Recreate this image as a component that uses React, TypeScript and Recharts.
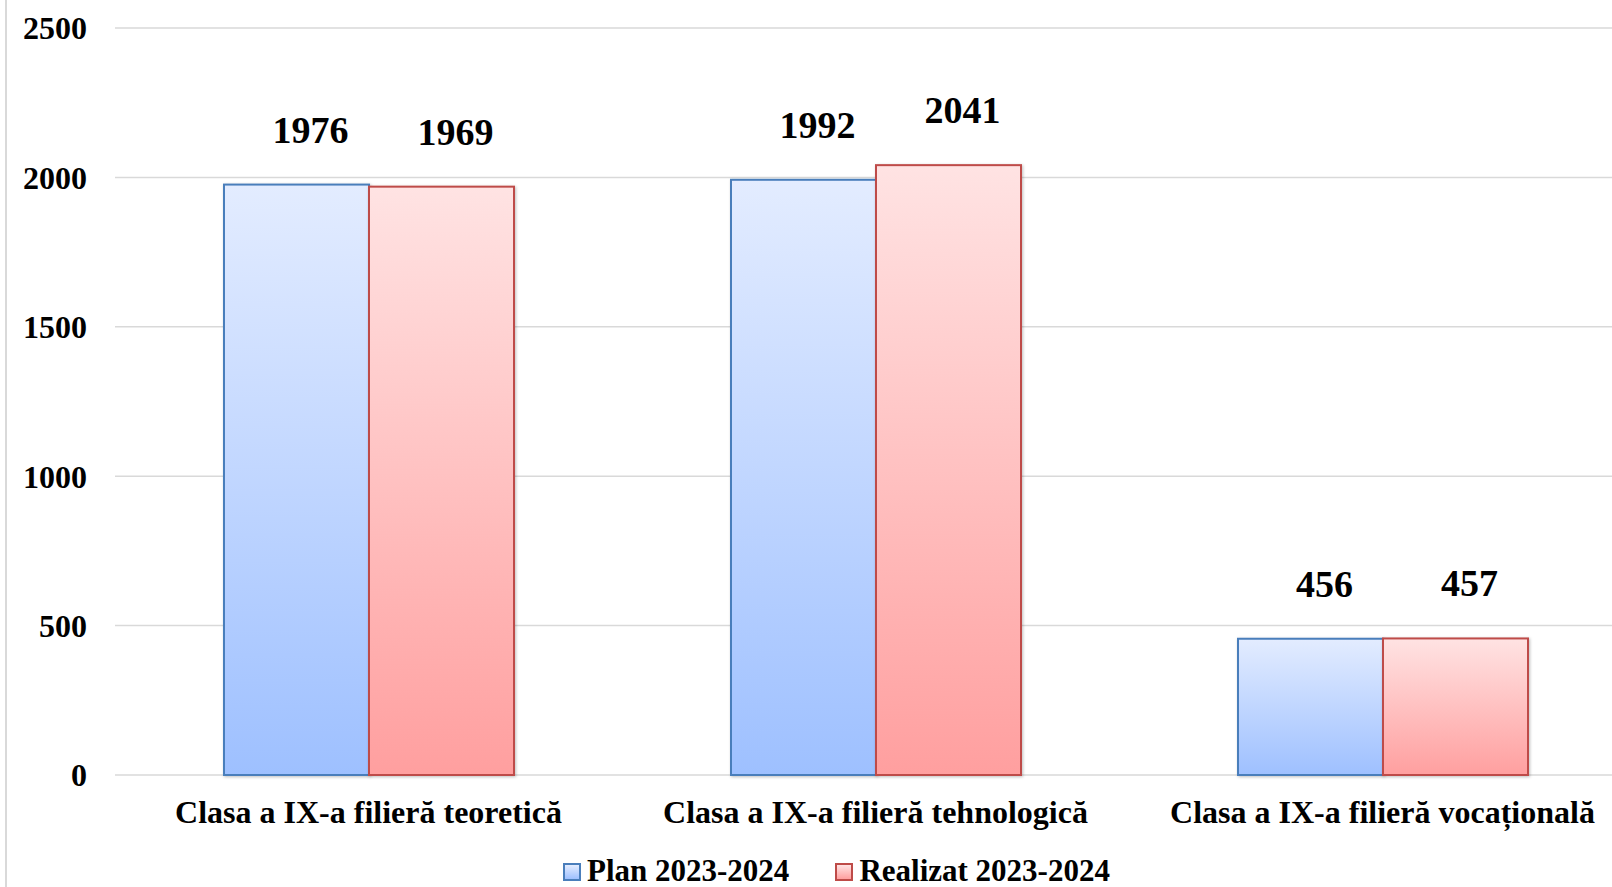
import React from "react";
import { BarChart, Bar, XAxis, YAxis, CartesianGrid, Legend, LabelList } from "recharts";

const categories = [
  "Clasa a IX-a filieră teoretică",
  "Clasa a IX-a filieră tehnologică",
  "Clasa a IX-a filieră vocațională",
];
const planValues = [1976, 1992, 456];
const realizatValues = [1969, 2041, 457];
const yTicks = [0, 500, 1000, 1500, 2000, 2500];
const seriesNames = ["Plan 2023-2024", "Realizat 2023-2024"];

const data = categories.map((c, i) => ({ name: c, plan: planValues[i], realizat: realizatValues[i] }));

const FONT = "'Liberation Serif', 'Times New Roman', serif";

const makeShape = (grad: string, stroke: string) => (props: any) => {
  const { x, y, width, height } = props;
  if (width == null || height == null) return null;
  return (
    <rect
      x={x}
      y={y}
      width={width}
      height={height}
      fill={`url(#${grad})`}
      stroke={stroke}
      strokeWidth={2}
      filter="url(#barShadow)"
    />
  );
};

const renderLabel = (props: any) => {
  const { x, y, width, value } = props;
  return (
    <text
      x={Number(x) + Number(width) / 2 + 14}
      y={Number(y) - 42}
      textAnchor="middle"
      fontFamily={FONT}
      fontWeight="bold"
      fontSize={38}
      fill="#000"
    >
      {value}
    </text>
  );
};

const LegendContent = () => {
  const item = (label: string, grad: [string, string], stroke: string, ml: number) => (
    <div style={{ display: "flex", alignItems: "center", marginLeft: ml }}>
      <div
        style={{
          width: 14,
          height: 14,
          border: `2px solid ${stroke}`,
          background: `linear-gradient(${grad[0]}, ${grad[1]})`,
          marginRight: 6,
          marginTop: 3,
        }}
      />
      <span style={{ fontFamily: FONT, fontWeight: "bold", fontSize: 31, color: "#000", lineHeight: "33px", whiteSpace: "nowrap" }}>
        {label}
      </span>
    </div>
  );
  return (
    <div style={{ height: 34, display: "flex", alignItems: "flex-start", paddingTop: 1, boxSizing: "border-box" }}>
      {item(seriesNames[0], ["#e3ecff", "#9ec0ff"], "#4a7ebb", 563)}
      {item(seriesNames[1], ["#ffe3e3", "#ff9f9f"], "#be4b48", 46)}
    </div>
  );
};

export default function App() {
  return (
    <div style={{ position: "absolute", left: 0, top: 0, width: 1612, height: 887, overflow: "hidden", background: "#fff" }}>
      <div style={{ position: "absolute", left: 5, top: 0, width: 2, height: 887, background: "#d9d9d9" }} />
      <div style={{ position: "absolute", left: 0, top: 0 }}>
        <BarChart
          width={1640}
          height={887}
          data={data}
          margin={{ top: 28, right: 4, bottom: 0, left: 0 }}
          barGap={0}
          barSize={145}
        >
          <defs>
            <linearGradient id="gradBlue" x1="0" y1="0" x2="0" y2="1">
              <stop offset="0%" stopColor="#e3ecff" />
              <stop offset="100%" stopColor="#9ec0ff" />
            </linearGradient>
            <linearGradient id="gradRed" x1="0" y1="0" x2="0" y2="1">
              <stop offset="0%" stopColor="#ffe3e3" />
              <stop offset="100%" stopColor="#ff9f9f" />
            </linearGradient>
            <filter id="barShadow" x="-10%" y="-10%" width="120%" height="120%">
              <feDropShadow dx="1" dy="1" stdDeviation="1.5" floodColor="#000" floodOpacity="0.25" />
            </filter>
          </defs>
          <CartesianGrid vertical={false} stroke="#d9d9d9" strokeWidth={1.5} />
          <XAxis
            dataKey="name"
            height={78}
            axisLine={false}
            tickLine={false}
            tickMargin={19}
            interval={0}
            tick={{ fontFamily: FONT, fontWeight: "bold", fontSize: 32, fill: "#000" }}
          />
          <YAxis
            width={115}
            domain={[0, 2500]}
            ticks={yTicks}
            axisLine={false}
            tickLine={false}
            tickMargin={22}
            tick={{ fontFamily: FONT, fontWeight: "bold", fontSize: 32, fill: "#000" }}
          />
          <Legend verticalAlign="bottom" height={34} content={<LegendContent />} />
          <Bar dataKey="plan" name={seriesNames[0]} isAnimationActive={false} shape={makeShape("gradBlue", "#4a7ebb")}>
            <LabelList dataKey="plan" content={renderLabel} />
          </Bar>
          <Bar dataKey="realizat" name={seriesNames[1]} isAnimationActive={false} shape={makeShape("gradRed", "#be4b48")}>
            <LabelList dataKey="realizat" content={renderLabel} />
          </Bar>
        </BarChart>
      </div>
    </div>
  );
}
